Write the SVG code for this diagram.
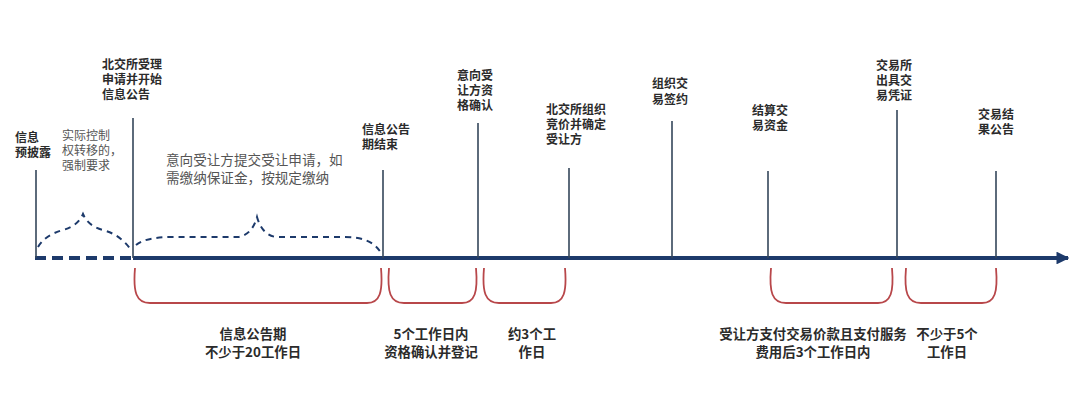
<svg xmlns="http://www.w3.org/2000/svg" width="1080" height="418" viewBox="0 0 1080 418">
<style>
.bg{fill:#ffffff}
.tick{stroke:#34465a;stroke-width:1.6;fill:none}
.axis{stroke:#1d3a6b;stroke-width:4;fill:none}
.axisd{stroke:#1d3a6b;stroke-width:4;fill:none;stroke-dasharray:11 6}
.brace{stroke:#1d3a6b;stroke-width:2;fill:none;stroke-dasharray:6 5}
.red{stroke:#b8474a;stroke-width:1.8;fill:none}
.lb{font-family:"Noto Sans CJK SC","Noto Sans",sans-serif;font-size:12px;font-weight:bold;fill:#2b2b2b}
.ln{font-family:"Noto Sans CJK SC","Noto Sans",sans-serif;font-size:12px;fill:#555555}
.ln14{font-family:"Noto Sans CJK SC","Noto Sans",sans-serif;font-size:13.6px;fill:#555555}
.bb{font-family:"Noto Sans CJK SC","Noto Sans",sans-serif;font-size:13.4px;font-weight:bold;fill:#2b2b2b;text-anchor:middle}
</style>
<defs>
<marker id="arr" viewBox="0 0 10 10" refX="9" refY="5" markerWidth="3.2" markerHeight="3.2" orient="auto" markerUnits="strokeWidth">
<path d="M0 0 L10 5 L0 10 z" fill="#1d3a6b"/>
</marker>
</defs>
<rect class="bg" x="0" y="0" width="1080" height="418"/>

<g id="connectors">
<line class="axisd" x1="35" y1="258" x2="133" y2="258"/>
<line class="axis" x1="133" y1="258" x2="1068" y2="258" marker-end="url(#arr)"/>
<path class="brace" d="M38 247 Q45 235 63 230 Q78 226 83 214 Q88 226 103 230 Q121 235 131 250"/>
<path class="brace" d="M136 245 Q146 237 172 237 L238 237 Q252 235 257 217 Q262 235 276 237 L345 237 Q372 237 381 253"/>
<path class="red" d="M135 268 C133 292 136 303 150 303 L367 303 C380 303 383 292 381 268"/>
<path class="red" d="M389 268 C387 292 390 303 404 303 L462 303 C475 303 478 292 476 268"/>
<path class="red" d="M484 268 C482 292 485 303 499 303 L551 303 C564 303 567 292 565 268"/>
<path class="red" d="M771 268 C769 292 772 303 786 303 L878 303 C891 303 894 292 892 268"/>
<path class="red" d="M906 268 C904 292 907 303 921 303 L982 303 C995 303 998 292 996 268"/>
</g>

<g id="n1">
<line class="tick" x1="36" y1="170" x2="36" y2="258"/>
<text class="lb" x="15" y="142"><tspan x="15" y="142">信息</tspan><tspan x="15" y="157">预披露</tspan></text>
</g>
<g id="n1note">
<text class="ln" x="62" y="140"><tspan x="62" y="140">实际控制</tspan><tspan x="62" y="155">权转移的，</tspan><tspan x="62" y="170">强制要求</tspan></text>
</g>
<g id="n2">
<line class="tick" x1="133" y1="118" x2="133" y2="258"/>
<text class="lb" x="102" y="69"><tspan x="102" y="69">北交所受理</tspan><tspan x="102" y="84">申请并开始</tspan><tspan x="102" y="99">信息公告</tspan></text>
</g>
<g id="n2note">
<text class="ln14" x="166" y="165"><tspan x="166" y="165">意向受让方提交受让申请，如</tspan><tspan x="166" y="183">需缴纳保证金，按规定缴纳</tspan></text>
</g>
<g id="n3">
<line class="tick" x1="383" y1="170" x2="383" y2="258"/>
<text class="lb" x="362" y="134"><tspan x="362" y="134">信息公告</tspan><tspan x="362" y="149">期结束</tspan></text>
</g>
<g id="n4">
<line class="tick" x1="478" y1="123" x2="478" y2="258"/>
<text class="lb" x="457" y="80"><tspan x="457" y="80">意向受</tspan><tspan x="457" y="95">让方资</tspan><tspan x="457" y="110">格确认</tspan></text>
</g>
<g id="n5">
<line class="tick" x1="569" y1="168" x2="569" y2="258"/>
<text class="lb" x="546" y="114"><tspan x="546" y="114">北交所组织</tspan><tspan x="546" y="129">竞价并确定</tspan><tspan x="546" y="144">受让方</tspan></text>
</g>
<g id="n6">
<line class="tick" x1="672" y1="121" x2="672" y2="258"/>
<text class="lb" x="652" y="88"><tspan x="652" y="88">组织交</tspan><tspan x="652" y="104">易签约</tspan></text>
</g>
<g id="n7">
<line class="tick" x1="768" y1="171" x2="768" y2="258"/>
<text class="lb" x="752" y="115"><tspan x="752" y="115">结算交</tspan><tspan x="752" y="130">易资金</tspan></text>
</g>
<g id="n8">
<line class="tick" x1="897" y1="110" x2="897" y2="258"/>
<text class="lb" x="876" y="70"><tspan x="876" y="70">交易所</tspan><tspan x="876" y="85">出具交</tspan><tspan x="876" y="100">易凭证</tspan></text>
</g>
<g id="n9">
<line class="tick" x1="996" y1="171" x2="996" y2="258"/>
<text class="lb" x="978" y="119"><tspan x="978" y="119">交易结</tspan><tspan x="978" y="134">果公告</tspan></text>
</g>

<g id="p1">
<text class="bb" x="253" y="339"><tspan x="253" y="339">信息公告期</tspan><tspan x="253" y="357">不少于20工作日</tspan></text>
</g>
<g id="p2">
<text class="bb" x="431" y="339"><tspan x="431" y="339">5个工作日内</tspan><tspan x="431" y="357">资格确认并登记</tspan></text>
</g>
<g id="p3">
<text class="bb" x="532" y="339"><tspan x="532" y="339">约3个工</tspan><tspan x="532" y="357">作日</tspan></text>
</g>
<g id="p4">
<text class="bb" x="813" y="339"><tspan x="813" y="339">受让方支付交易价款且支付服务</tspan><tspan x="813" y="357">费用后3个工作日内</tspan></text>
</g>
<g id="p5">
<text class="bb" x="947" y="339"><tspan x="947" y="339">不少于5个</tspan><tspan x="947" y="357">工作日</tspan></text>
</g>
</svg>
